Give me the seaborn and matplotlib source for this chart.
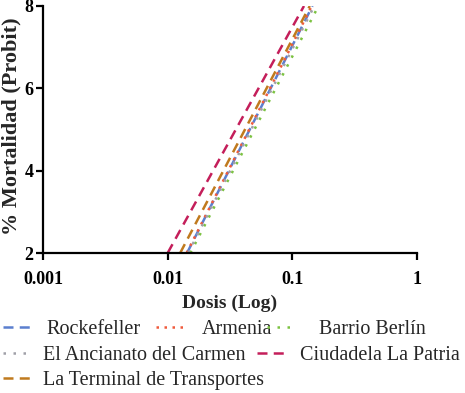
import matplotlib
matplotlib.use("Agg")
import matplotlib.pyplot as plt
import seaborn as sns
import pandas as pd
from matplotlib.ticker import FixedLocator, FixedFormatter, NullLocator
from matplotlib.lines import Line2D

sites = ["Rockefeller", "Armenia", "Barrio Berlín", "El Ancianato del Carmen",
         "Ciudadela La Patria", "La Terminal de Transportes"]
dose_low = [0.0143, 0.0142, 0.0152, 0.0146, 0.0100, 0.0126]
dose_high = [0.145, 0.143, 0.162, 0.150, 0.124, 0.138]
probit = [2, 8]
xticks = [0.001, 0.01, 0.1, 1]
xticklabels = ["0.001", "0.01", "0.1", "1"]
yticks = [2, 4, 6, 8]

colors = {"Rockefeller": "#5b7fcf", "Armenia": "#f05a3c", "Barrio Berlín": "#7cc242",
          "El Ancianato del Carmen": "#a0a0a8", "Ciudadela La Patria": "#c41e5a",
          "La Terminal de Transportes": "#c07a1e"}
dashes = {"Rockefeller": (4, 2.5), "Armenia": (1, 2.2), "Barrio Berlín": (1, 3),
          "El Ancianato del Carmen": (1, 3), "Ciudadela La Patria": (4, 2.5),
          "La Terminal de Transportes": (4, 2.5)}

rows = []
for s, lo, hi in zip(sites, dose_low, dose_high):
    rows.append({"site": s, "dose": lo, "probit": probit[0]})
    rows.append({"site": s, "dose": hi, "probit": probit[1]})
df = pd.DataFrame(rows)

sns.set_style("ticks")
plt.rcParams["font.family"] = ["Liberation Serif", "DejaVu Serif"]

fig = plt.figure(figsize=(4.65, 3.93), dpi=100)
ax = fig.add_axes([43/465, 1-253/393, (417-43)/465, (253-6)/393])
sns.lineplot(data=df, x="dose", y="probit", hue="site", style="site",
             palette=colors, dashes=dashes, ax=ax, linewidth=1.8, legend=False,
             estimator=None, sort=False)
ax.set_xscale("log")
ax.set_xlim(0.001, 1)
ax.set_ylim(2, 8)
ax.xaxis.set_major_locator(FixedLocator(xticks))
ax.xaxis.set_major_formatter(FixedFormatter(xticklabels))
ax.xaxis.set_minor_locator(NullLocator())
ax.set_yticks(yticks)
for sp in ["top", "right"]:
    ax.spines[sp].set_visible(False)
for sp in ["left", "bottom"]:
    ax.spines[sp].set_linewidth(1.6)
    ax.spines[sp].set_color("black")
ax.tick_params(width=1.6, length=5, direction="out", labelsize=13, colors="black")
ax.tick_params(axis="x", pad=8)
ax.tick_params(axis="y", pad=2)
for lab in ax.get_xticklabels() + ax.get_yticklabels():
    lab.set_fontweight("bold")
ax.set_xlabel("Dosis (Log)", fontsize=14, fontweight="bold", labelpad=5)
ax.set_ylabel("% Mortalidad (Probit)", fontsize=16, fontweight="bold")
ax.yaxis.set_label_coords(-0.058, 0.515)

positions = {
    "Rockefeller": (3, 329, 0.75),
    "Armenia": (156, 329, 0.85),
    "Barrio Berlín": (267, 329, 1.2),
    "El Ancianato del Carmen": (3, 355, 0.6),
    "Ciudadela La Patria": (257, 355, 0.75),
    "La Terminal de Transportes": (3, 380, 0.6),
}
for s in sites:
    h = Line2D([], [], color=colors[s], linewidth=1.8, dashes=dashes[s])
    px, py, tp = positions[s]
    fig.legend([h], [s], loc="center left", bbox_to_anchor=(px/465, 1-py/393),
               frameon=False, borderpad=0, borderaxespad=0, handlelength=1.4,
               handletextpad=tp,
               prop={"family": ["Liberation Serif"], "size": 14.5})

fig.savefig("out.png", dpi=100)
